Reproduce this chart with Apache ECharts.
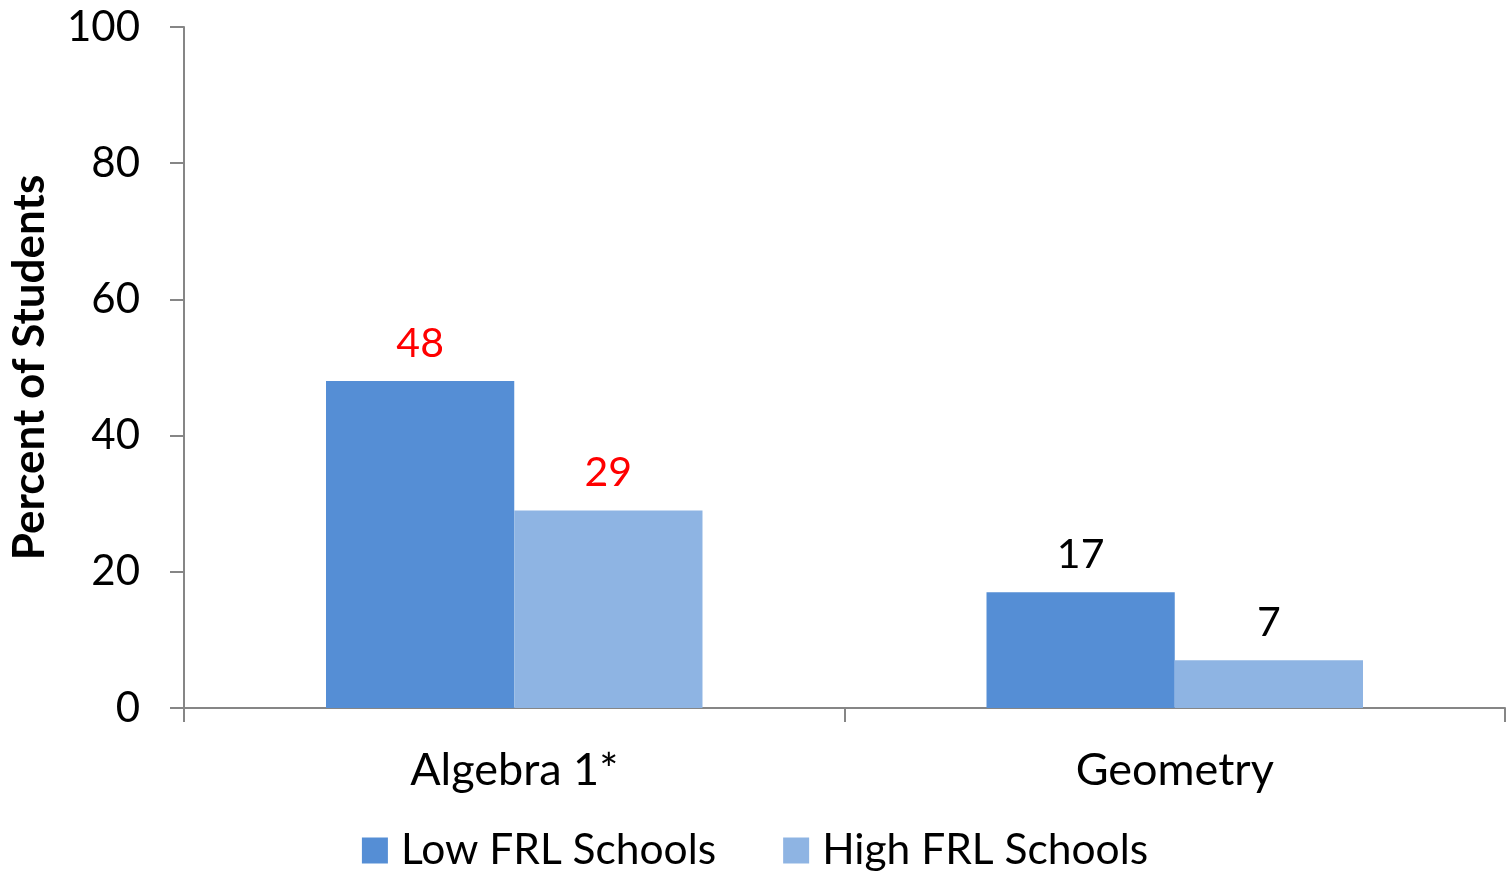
<!DOCTYPE html>
<html>
<head>
<meta charset="utf-8">
<script src="https://cdn.jsdelivr.net/npm/echarts@6/dist/echarts.min.js"></script>
<style>html,body{margin:0;padding:0;background:#fff}#c{width:1510px;height:874px}</style>
</head>
<body>
<div id="c"></div>
<script>
const categories = ['Algebra 1*', 'Geometry'];
const seriesNames = ['Low FRL Schools', 'High FRL Schools'];
const lowFRL = [48, 17];
const highFRL = [29, 7];
const labelColors = ['#FF0000', '#000000'];
const yTicks = [0, 20, 40, 60, 80, 100];

const FONT = 'Lato';
const chart = echarts.init(document.getElementById('c'), null, {renderer: 'canvas'});
function mk(name, vals, color) {
  return {
    name: name, type: 'bar', data: vals.map((v, i) => ({
      value: v,
      label: {color: labelColors[i]}
    })),
    itemStyle: {color: color},
    barGap: '0%', barCategoryGap: '43%',
    label: {show: true, position: 'top', distance: 17, fontFamily: FONT, fontSize: 41}
  };
}
chart.setOption({
  animation: false,
  textStyle: {fontFamily: FONT},
  grid: {left: 184, right: 5, top: 27, bottom: 166, containLabel: false, outerBoundsMode: 'none'},
  legend: {
    bottom: -3, left: 'center', itemWidth: 26, itemHeight: 26, itemGap: 67,
    icon: 'rect',
    textStyle: {fontFamily: FONT, fontSize: 42.5, color: '#000', padding: [0, 0, 0, 8]},
    data: seriesNames
  },
  xAxis: {
    type: 'category', data: categories,
    axisLine: {lineStyle: {color: '#868686', width: 2}},
    axisTick: {show: true, length: 14, lineStyle: {color: '#868686', width: 2}},
    axisLabel: {color: '#000', fontSize: 45, fontFamily: FONT, margin: 40}
  },
  yAxis: {
    type: 'value', min: 0, max: 100, interval: 20,
    name: 'Percent of Students', nameLocation: 'middle', nameGap: 132, nameRotate: 90,
    nameTextStyle: {fontFamily: FONT, fontWeight: 'bold', fontSize: 44, color: '#000'},
    axisLine: {show: true, lineStyle: {color: '#868686', width: 2}},
    axisTick: {show: true, length: 14, lineStyle: {color: '#868686', width: 2}},
    splitLine: {show: false},
    axisLabel: {color: '#000', fontSize: 42, fontFamily: FONT, margin: 44,
      formatter: v => yTicks.includes(v) ? String(v) : ''}
  },
  series: [mk(seriesNames[0], lowFRL, '#558ED5'), mk(seriesNames[1], highFRL, '#8EB4E3')]
});
</script>
</body>
</html>
